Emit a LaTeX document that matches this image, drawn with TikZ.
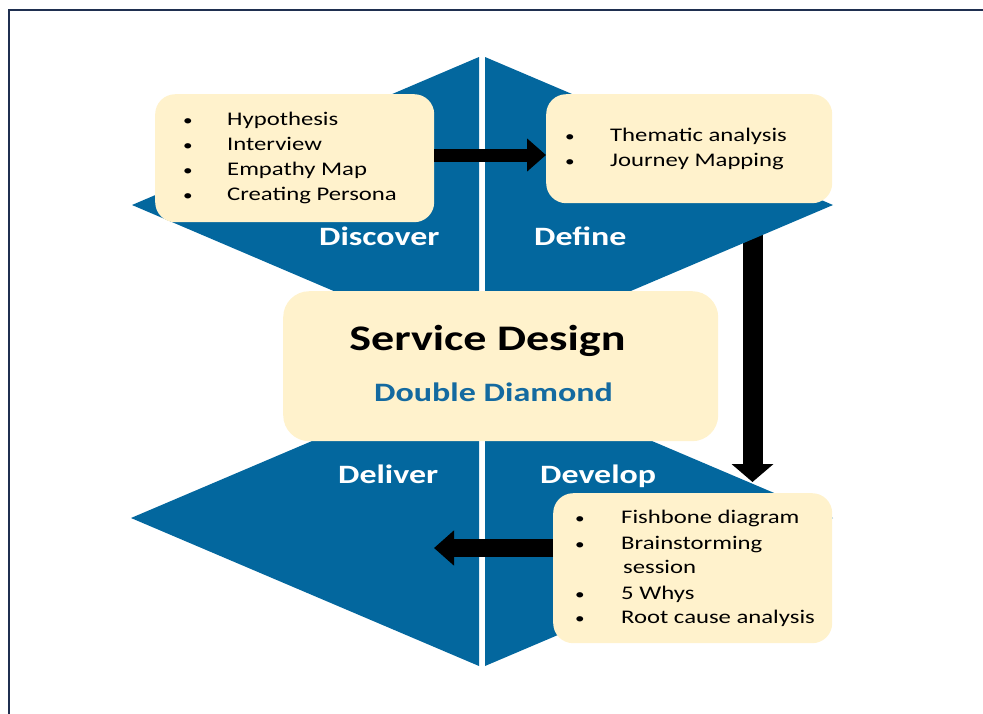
\documentclass[tikz,border=0pt]{standalone}
\usepackage{fontspec}
\setmainfont{Carlito}[FakeStretch=1.28]
\usetikzlibrary{arrows.meta}
\definecolor{ddblue}{RGB}{3,103,158}
\definecolor{ddtext}{RGB}{20,106,160}
\definecolor{cream}{RGB}{255,242,204}
\definecolor{framecol}{RGB}{31,47,80}
\pgfdeclarelayer{bg}
\pgfsetlayers{bg,main}
\begin{document}
\begin{tikzpicture}[x=1pt,y=-1pt,
  box/.style={fill=cream, draw=none, rounded corners=20pt, inner sep=0pt, anchor=north west},
  item/.style={anchor=base west, inner sep=0pt, font=\fontsize{19.3}{22}\selectfont},
  bul/.style={anchor=base, inner sep=0pt, font=\fontsize{15}{18}\selectfont},
  phase/.style={anchor=base west, inner sep=0pt, text=white, font=\fontsize{26.5}{30}\selectfont\bfseries},
  blockarrow/.style={draw=black, line width=#1}]
\useasboundingbox (0,0) rectangle (983,713);
% frame
\draw[framecol, line width=2pt] (9,720) -- (9,10) -- (990,10);
% boxes
\node[box, minimum width=279pt, minimum height=128pt] (b1) at (155,94) {};
\node[box, minimum width=286pt, minimum height=109pt] (b2) at (546,94) {};
\node[box, rounded corners=26pt, minimum width=435pt, minimum height=150pt] (bc) at (283,291) {};
\node[box, minimum width=279pt, minimum height=150pt] (b4) at (553,493) {};
% helper coordinates
\coordinate (a1y) at (0,155);
\coordinate (a2x) at (752.5,0);
\coordinate (a3y) at (0,548);
\coordinate (a3tip) at (434,548);
\begin{pgfonlayer}{bg}
\draw[blockarrow=20pt, -{Triangle[length=18pt,width=41pt]}, shorten >=11pt]
  (b2.south -| a2x) -- (b4.north -| a2x);
\fill[ddblue] (132,205) -- (479,57) -- (479,353) -- cycle;
\fill[ddblue] (485,57) -- (833,205) -- (485,353) -- cycle;
\fill[ddblue] (131,518) -- (479,370) -- (479,666) -- cycle;
\fill[ddblue] (485,370) -- (833,518) -- (485,666) -- cycle;
\end{pgfonlayer}
% arrows over the diamonds
\draw[blockarrow=13pt, -{Triangle[length=19pt,width=32pt]}] (b1.east |- a1y) -- (b2.west |- a1y);
\draw[blockarrow=18pt, -{Triangle[length=20pt,width=34pt]}] (b4.west |- a3y) -- (a3tip);
% phase labels
\node[phase] (discover) at (319,245) {Discover};
\node[phase] (define) at (534,245) {Define};
\node[phase] (deliver) at (338,483) {Deliver};
\node[phase] (develop) at (540,483) {Develop};
% centre
\node[anchor=base, inner sep=0pt, font=\fontsize{36}{40}\selectfont\bfseries] (title) at (487.5,350) {Service Design};
\node[anchor=base, inner sep=0pt, text=ddtext, font=\fontsize{26.6}{30}\selectfont\bfseries] (subtitle) at (493.5,401) {Double Diamond};
% box 1 list
\node[bul] (p1) at (188,125) {•}; \node[item] (t1) at (227,125) {Hypothesis};
\node[bul] (p2) at (188,150) {•}; \node[item] (t2) at (227,150) {Interview};
\node[bul] (p3) at (188,175) {•}; \node[item] (t3) at (227,175) {Empathy Map};
\node[bul] (p4) at (188,200) {•}; \node[item] (t4) at (227,200) {Creating Persona};
% box 2 list
\node[bul] (q1) at (570,141) {•}; \node[item] (u1) at (610,141) {Thematic analysis};
\node[bul] (q2) at (570,166) {•}; \node[item] (u2) at (610,166) {Journey Mapping};
% box 4 list
\node[bul] (r1) at (580,523) {•}; \node[item] (v1) at (621,523) {Fishbone diagram};
\node[bul] (r2) at (580,549) {•}; \node[item] (v2) at (621,549) {Brainstorming};
\node[item] (v2b) at (623,573) {session};
\node[bul] (r3) at (580,599) {•}; \node[item] (v3) at (621,599) {5 Whys};
\node[bul] (r4) at (580,623) {•}; \node[item] (v4) at (621,623) {Root cause analysis};
\end{tikzpicture}
\end{document}
